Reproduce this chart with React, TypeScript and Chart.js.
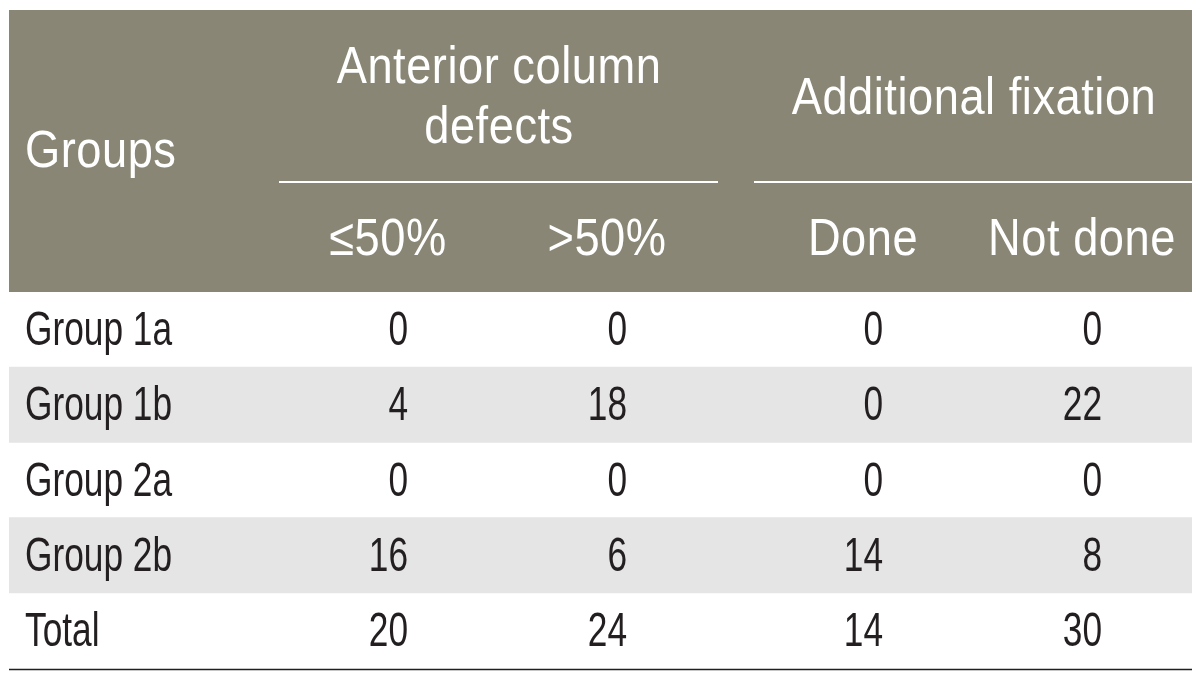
import React, { useEffect, useRef } from 'react';
import { Chart, registerables } from 'chart.js';

Chart.register(...registerables);

// ---- Data ----
const rowLabels = ['Group 1a', 'Group 1b', 'Group 2a', 'Group 2b', 'Total'];
const defectsUpTo50 = [0, 4, 0, 16, 20];
const defectsOver50 = [0, 18, 0, 6, 24];
const fixationDone = [0, 0, 0, 14, 14];
const fixationNotDone = [0, 22, 0, 8, 30];
const shadedRows = [false, true, false, true, false];

const stubHeader = 'Groups';
const groupHeaders = [['Anterior column', 'defects'], ['Additional fixation']];
const subHeaders = ['≤50%', '>50%', 'Done', 'Not done'];

// ---- Layout (x-scale units, measured from the table's left edge) ----
const X_MAX = 1183;
const STUB_X = 16;
const COL_RIGHT = [399, 618, 874, 1093];
const SUB_CENTER = [379, 598, 854, 1073];
const GROUP_SPAN = [
  [270, 709],
  [745, 1183],
];
const GROUP_CENTER = [490, 965];

const FONT = "'Liberation Sans', Arial, sans-serif";
const HEADER_SIZE = 52;
const HEADER_SQUEEZE = 0.87;
const BODY_SIZE = 49;
const BODY_SQUEEZE = 0.72;
const HEADER_BG = '#898675';
const ROW_SHADE = '#e5e5e5';
const TEXT_DARK = '#231f20';

function squeezedText(ctx: CanvasRenderingContext2D, text: string, px: number, py: number, sx: number) {
  ctx.save();
  ctx.translate(px, py);
  ctx.scale(sx, 1);
  ctx.fillText(text, 0, 0);
  ctx.restore();
}

const tablePlugin = {
  id: 'tablePlugin',
  beforeDraw(chart: any) {
    const { ctx, chartArea } = chart;
    const x = chart.scales.x;
    const left = x.getPixelForValue(0);
    const right = x.getPixelForValue(X_MAX);
    ctx.save();
    ctx.fillStyle = HEADER_BG;
    ctx.fillRect(left, 10, right - left, chartArea.top - 10);
    ctx.restore();
  },
  afterDraw(chart: any) {
    const { ctx, chartArea } = chart;
    const x = chart.scales.x;
    const y = chart.scales.y;
    const top = chartArea.top;
    ctx.save();
    // header rules under spanning headings
    ctx.strokeStyle = '#ffffff';
    ctx.lineWidth = 2;
    const lineY = top - 110;
    GROUP_SPAN.forEach(([a, b]) => {
      ctx.beginPath();
      ctx.moveTo(x.getPixelForValue(a), lineY);
      ctx.lineTo(x.getPixelForValue(b), lineY);
      ctx.stroke();
    });
    // header text
    ctx.fillStyle = '#ffffff';
    ctx.textBaseline = 'alphabetic';
    ctx.font = `${HEADER_SIZE}px ${FONT}`;
    (ctx as any).letterSpacing = '0.6px';
    ctx.textAlign = 'left';
    squeezedText(ctx, stubHeader, x.getPixelForValue(STUB_X), top - 125, HEADER_SQUEEZE);
    ctx.textAlign = 'center';
    squeezedText(ctx, groupHeaders[0][0], x.getPixelForValue(GROUP_CENTER[0]), top - 209, HEADER_SQUEEZE);
    squeezedText(ctx, groupHeaders[0][1], x.getPixelForValue(GROUP_CENTER[0]), top - 149, HEADER_SQUEEZE);
    squeezedText(ctx, groupHeaders[1][0], x.getPixelForValue(GROUP_CENTER[1]), top - 178, HEADER_SQUEEZE);
    subHeaders.forEach((s, i) => {
      squeezedText(ctx, s, x.getPixelForValue(SUB_CENTER[i]), top - 37, HEADER_SQUEEZE);
    });
    (ctx as any).letterSpacing = '0px';
    // body: row labels from the category scale, values in columns
    ctx.fillStyle = TEXT_DARK;
    ctx.font = `${BODY_SIZE}px ${FONT}`;
    ctx.textAlign = 'left';
    rowLabels.forEach((_, r) => {
      squeezedText(ctx, String(y.getLabelForValue(r)), x.getPixelForValue(STUB_X), y.getPixelForValue(r) + 15.5, BODY_SQUEEZE);
    });
    ctx.textAlign = 'right';
    const cols = [defectsUpTo50, defectsOver50, fixationDone, fixationNotDone];
    cols.forEach((col, c) => {
      col.forEach((v, r) => {
        squeezedText(ctx, String(v), x.getPixelForValue(COL_RIGHT[c]), y.getPixelForValue(r) + 15.5, BODY_SQUEEZE);
      });
    });
    // bottom rule
    ctx.strokeStyle = TEXT_DARK;
    ctx.lineWidth = 1.5;
    ctx.beginPath();
    ctx.moveTo(x.getPixelForValue(0), chartArea.bottom + 1.5);
    ctx.lineTo(x.getPixelForValue(X_MAX), chartArea.bottom + 1.5);
    ctx.stroke();
    ctx.restore();
  },
};

export default function App() {
  const ref = useRef<HTMLCanvasElement | null>(null);
  useEffect(() => {
    document.body.style.margin = '0';
    const canvas = ref.current;
    if (!canvas) return;
    const chart = new Chart(canvas, {
      type: 'bar',
      data: {
        labels: rowLabels,
        datasets: [
          {
            label: 'shade',
            data: shadedRows.map((s) => (s ? [0, X_MAX] : null)) as any,
            backgroundColor: ROW_SHADE,
            borderWidth: 0,
            barPercentage: 1,
            categoryPercentage: 1,
          },
        ],
      },
      options: {
        indexAxis: 'y',
        animation: false,
        responsive: false,
        events: [],
        layout: { padding: { left: 9, right: 8, top: 292, bottom: 19 } },
        plugins: { legend: { display: false }, tooltip: { enabled: false }, title: { display: false } },
        scales: {
          x: { type: 'linear', min: 0, max: X_MAX, display: false },
          y: {
            type: 'category',
            grid: { display: false, drawTicks: false },
            border: { display: false },
            ticks: { display: false },
            afterFit: (scale: any) => {
              scale.width = 0;
              scale.paddingTop = 0;
              scale.paddingBottom = 0;
            },
          },
        },
      },
      plugins: [tablePlugin],
    });
    return () => chart.destroy();
  }, []);
  return (
    <div style={{ position: 'absolute', left: 0, top: 0, width: 1200, height: 687, background: '#ffffff' }}>
      <canvas ref={ref} width={1200} height={687} style={{ display: 'block' }} />
    </div>
  );
}
